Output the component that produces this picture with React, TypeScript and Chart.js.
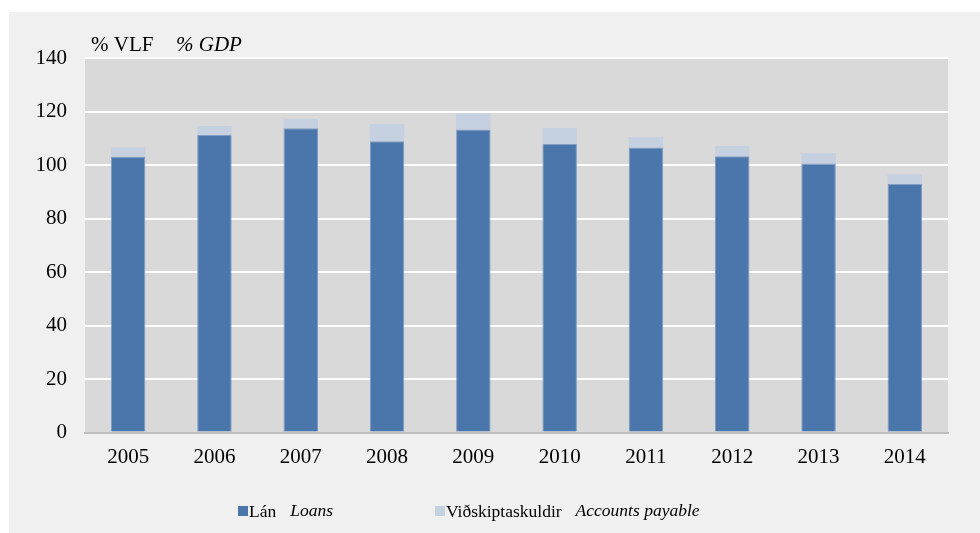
import React, { useEffect, useRef } from "react";
import { Chart, registerables } from "chart.js";

Chart.register(...registerables);

const years = ["2005", "2006", "2007", "2008", "2009", "2010", "2011", "2012", "2013", "2014"];
const loans = [103.1, 111.2, 113.7, 108.9, 113.3, 107.9, 106.5, 103.3, 100.6, 93.0];
const payables = [3.5, 3.4, 3.5, 6.4, 6.0, 6.0, 4.0, 3.8, 3.9, 3.5];
const yTicks = [0, 20, 40, 60, 80, 100, 120, 140];

const unitIs = "% VLF";
const unitEn = "% GDP";
const legendItems = [
  { is: "Lán", en: "Loans", color: "#4A76AB" },
  { is: "Viðskiptaskuldir", en: "Accounts payable", color: "#C5D0E1" },
];

const SERIF = "'Liberation Serif', 'Times New Roman', serif";

const bgPlugin = {
  id: "bgPlugin",
  beforeDraw(chart: any) {
    const { ctx, width, height, chartArea } = chart;
    ctx.save();
    ctx.fillStyle = "#FFFFFF";
    ctx.fillRect(0, 0, width, height);
    ctx.fillStyle = "#F0F0F0";
    ctx.fillRect(9, 12, width - 9, height - 12);
    ctx.fillStyle = "#D9D9D9";
    ctx.fillRect(chartArea.left, chartArea.top, chartArea.right - chartArea.left, chartArea.bottom - chartArea.top);
    ctx.restore();
  },
  afterDraw(chart: any) {
    const { ctx } = chart;
    ctx.save();
    ctx.fillStyle = "#000000";
    ctx.textBaseline = "alphabetic";
    ctx.textAlign = "left";
    ctx.font = `21px ${SERIF}`;
    ctx.fillText(unitIs, 91, 51);
    ctx.font = `italic 21px ${SERIF}`;
    ctx.fillText(unitEn, 176, 51);

    const positions = [238, 435];
    legendItems.forEach((it, i) => {
      const x = positions[i];
      ctx.fillStyle = it.color;
      ctx.fillRect(x, 506, 10, 10);
      ctx.fillStyle = "#000000";
      ctx.font = `17.5px ${SERIF}`;
      ctx.fillText(it.is, x + 11, 517);
      const w = ctx.measureText(it.is).width;
      ctx.font = `italic 17.5px ${SERIF}`;
      ctx.fillText(it.en, x + 11 + w + 14, 516);
    });
    ctx.restore();
  },
};

export default function App() {
  const ref = useRef<HTMLCanvasElement>(null);
  useEffect(() => {
    document.body.style.margin = "0";
    const chart = new Chart(ref.current!, {
      type: "bar",
      data: {
        labels: years,
        datasets: [
          {
            label: legendItems[0].is,
            data: loans,
            backgroundColor: legendItems[0].color,
            borderColor: "#7C9CC6",
            borderWidth: 1,
            borderSkipped: "bottom",
            barPercentage: 0.4,
            categoryPercentage: 1,
          },
          {
            label: legendItems[1].is,
            data: payables,
            backgroundColor: legendItems[1].color,
            borderWidth: 0,
            barPercentage: 0.4,
            categoryPercentage: 1,
          },
        ],
      },
      options: {
        responsive: false,
        animation: false,
        devicePixelRatio: 1,
        layout: { padding: { left: 9, right: 32, top: 58, bottom: 0 } },
        plugins: { legend: { display: false }, tooltip: { enabled: false }, title: { display: false } },
        scales: {
          x: {
            stacked: true,
            grid: { display: false, drawTicks: false },
            border: { display: true, color: "#BFBFBF", width: 2 },
            ticks: { color: "#000", font: { family: SERIF, size: 21 }, padding: 12, maxRotation: 0 },
            afterFit(scale: any) {
              scale.height = 100.5;
            },
          },
          y: {
            stacked: true,
            min: 0,
            max: 140,
            afterBuildTicks(scale: any) {
              scale.ticks = yTicks.map((v) => ({ value: v }));
            },
            grid: {
              drawTicks: false,
              lineWidth: 2,
              color: (c: any) => (c.tick && c.tick.value === 0 ? "rgba(0,0,0,0)" : "#FFFFFF"),
            },
            border: { display: false },
            ticks: { color: "#000", font: { family: SERIF, size: 21 }, padding: 18 },
            afterFit(scale: any) {
              scale.width = 76;
            },
          },
        },
      },
      plugins: [bgPlugin],
    });
    return () => chart.destroy();
  }, []);
  return (
    <div style={{ width: 980, height: 533 }}>
      <canvas ref={ref} width={980} height={533} style={{ display: "block" }} />
    </div>
  );
}
